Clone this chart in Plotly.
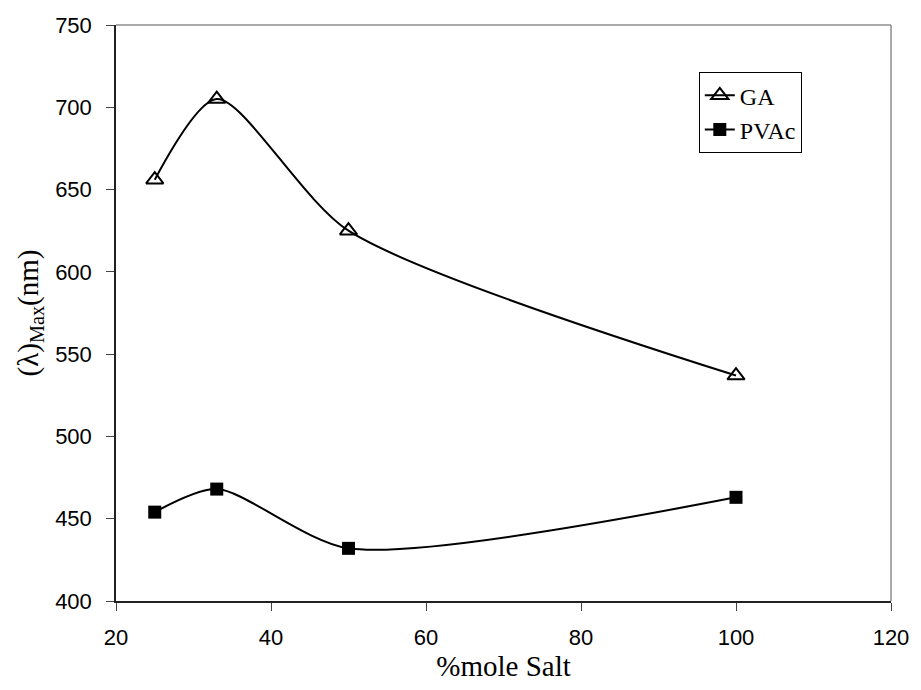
import plotly.graph_objects as go

# Salt content (% mole) and absorption maxima (nm)
salt = [25, 33, 50, 100]
ga_lambda = [656, 705, 625, 537]
pvac_lambda = [454, 468, 432, 463]

x_ticks = [20, 40, 60, 80, 100, 120]
y_ticks = [400, 450, 500, 550, 600, 650, 700, 750]

fig = go.Figure()

fig.add_trace(go.Scatter(
    x=salt, y=ga_lambda, name="GA",
    mode="lines+markers",
    line=dict(color="black", width=2, shape="spline", smoothing=0.75),
    marker=dict(symbol="triangle-up-open", size=15, color="black",
                line=dict(color="black", width=2)),
))

fig.add_trace(go.Scatter(
    x=salt, y=pvac_lambda, name="PVAc",
    mode="lines+markers",
    line=dict(color="black", width=2, shape="spline", smoothing=0.75),
    marker=dict(symbol="square", size=13, color="black"),
))

axis_font = dict(family="Liberation Sans, Arial", size=22, color="black")
title_font = dict(family="Liberation Serif, Times New Roman", size=29, color="black")

fig.update_xaxes(
    range=[20, 120], tickvals=x_ticks, ticktext=[str(v) for v in x_ticks],
    showgrid=False, zeroline=False,
    showline=True, linecolor="#222", linewidth=1.5,
    ticks="outside", ticklen=8, tickwidth=1.2, tickcolor="#444",
    tickfont=axis_font, ticklabelstandoff=8,
    title=dict(text="%mole Salt", font=title_font, standoff=2),
)
fig.update_yaxes(
    range=[400, 750], tickvals=y_ticks, ticktext=[str(v) for v in y_ticks],
    showgrid=False, zeroline=False,
    showline=True, linecolor="#222", linewidth=1.5,
    ticks="outside", ticklen=8, tickwidth=1.2, tickcolor="#444",
    tickfont=axis_font, ticklabelstandoff=10,
    title=dict(text="(λ)<sub>Max</sub>(nm)", font=title_font, standoff=8),
)

# Light frame on the top and right edges of the plot area
fig.add_shape(type="line", xref="paper", yref="paper", x0=0, x1=1, y0=1, y1=1,
              line=dict(color="#8c8c8c", width=1.5))
fig.add_shape(type="line", xref="paper", yref="paper", x0=1, x1=1, y0=0, y1=1,
              line=dict(color="#8c8c8c", width=1.5))

fig.update_layout(
    width=921, height=690,
    margin=dict(l=116, r=26, t=25, b=89),
    paper_bgcolor="white", plot_bgcolor="white",
    showlegend=True,
    legend=dict(
        x=0.752, y=0.918, xanchor="left", yanchor="top",
        bordercolor="black", borderwidth=1, bgcolor="white",
        font=dict(family="Liberation Serif, Times New Roman", size=24, color="black"),
        tracegroupgap=0, itemwidth=30,
    ),
)

fig.write_html("out.html")
